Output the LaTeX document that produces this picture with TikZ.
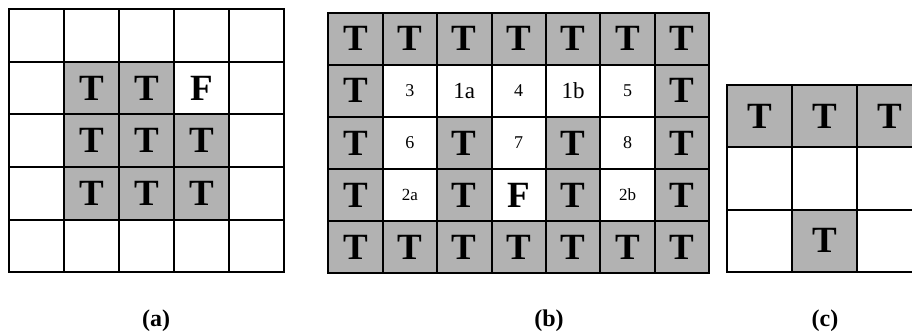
\documentclass[tikz,border=0pt]{standalone}
\usepackage{fontspec}
\setmainfont{Liberation Serif}
\usetikzlibrary{positioning}
\definecolor{cellgray}{gray}{0.7}
\tikzset{
	every node/.style={inner sep=0pt,outer sep=0pt},
	cellbox/.style={draw=black,line width=2pt,fill=white,minimum width=#1},
	tcell/.style={draw=black,line width=2pt,fill=cellgray,font=\fontsize{37}{37}\selectfont\bfseries},
	bigletter/.style={font=\fontsize{37}{37}\selectfont\bfseries},
	caption/.style={font=\fontsize{24}{24}\selectfont\bfseries},
}

\begin{document}
\begin{tikzpicture}[x=1pt,y=-1pt]
	\clip (0,0) rectangle (912,336);
	\fill [white] (0,0) rectangle (912,336);

	% grid (a)...................
	\foreach \r in {0,...,4}
		\foreach \c in {0,...,4}
			\node [cellbox=55pt, minimum height=52.7pt] (a-\r-\c) at ({9+55*(\c+0.5)},{9+52.7*(\r+0.5)}) {};
	\foreach \r/\c in {1/1,1/2,2/1,2/2,2/3,3/1,3/2,3/3}
		\node [tcell, minimum width=55pt, minimum height=52.7pt] (ta-\r-\c) at (a-\r-\c) {T};
	\node [bigletter] (fa) at (a-1-3) {F};

	% grid (b)...................
	\foreach \r in {0,...,4}
		\foreach \c in {0,...,6}
			\node [cellbox=54.4pt, minimum height=52.1pt] (b-\r-\c) at ({328.3+54.4*(\c+0.5)},{12.7+52.1*(\r+0.5)}) {};
	\foreach \r/\c in {0/0,0/1,0/2,0/3,0/4,0/5,0/6,4/0,4/1,4/2,4/3,4/4,4/5,4/6,
			1/0,2/0,3/0,1/6,2/6,3/6,2/2,2/4,3/2,3/4}
		\node [tcell, minimum width=54.4pt, minimum height=52.1pt] (tb-\r-\c) at (b-\r-\c) {T};
	\foreach \r/\c/\txt/\sz in {1/1/3/18,1/2/1a/23,1/3/4/18,1/4/1b/23,1/5/5/18,
			2/1/6/18,2/3/7/18,2/5/8/18,3/1/2a/17,3/5/2b/17}
		\node [font=\fontsize{\sz}{\sz}\selectfont] (nb-\r-\c) at (b-\r-\c) {\txt};
	\node [bigletter] (fb) at (b-3-3) {F};

	% grid (c)...................
	\foreach \r in {0,...,2}
		\foreach \c in {0,...,2}
			\node [cellbox=65pt, minimum height=62.3pt] (c-\r-\c) at ({727.3+65*(\c+0.5)},{85+62.3*(\r+0.5)}) {};
	\foreach \r/\c in {0/0,0/1,0/2,2/1}
		\node [tcell, minimum width=65pt, minimum height=62.3pt] (tc-\r-\c) at (c-\r-\c) {T};

	% captions...................
	\node [caption] (capa) at (156,321) {(a)};
	\node [caption] (capb) at (549,321) {(b)};
	\node [caption] (capc) at (825,321) {(c)};

\end{tikzpicture}
\end{document}
